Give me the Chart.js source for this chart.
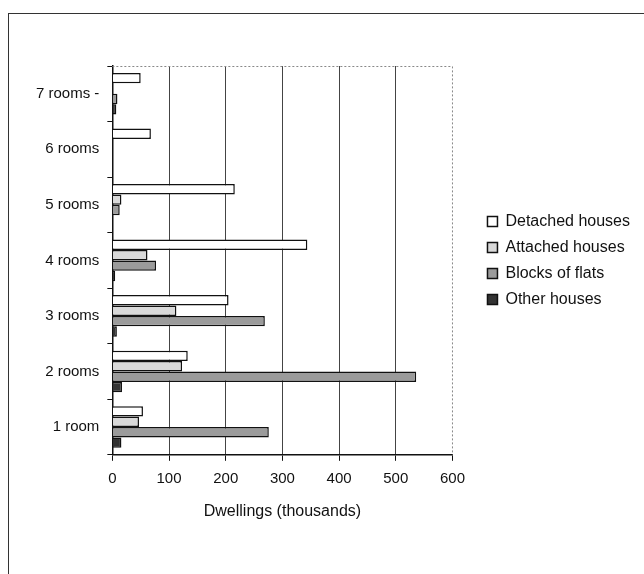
<!DOCTYPE html>
<html>
<head>
<meta charset="utf-8">
<script src="https://cdn.jsdelivr.net/npm/chart.js@4.4.1/dist/chart.umd.min.js"></script>
<style>
  html, body { margin: 0; padding: 0; background: #fff; }
  #wrap { position: absolute; left: 0; top: 0; width: 644px; height: 574px; }
  #frame { position: absolute; left: 8px; top: 13px; width: 700px; height: 600px;
           border-left: 1.5px solid #333; border-top: 1.5px solid #333; }
</style>
</head>
<body>
<div id="frame"></div>
<div id="wrap"><canvas id="chart"></canvas></div>
<script>
const categories = ['7 rooms -', '6 rooms', '5 rooms', '4 rooms', '3 rooms', '2 rooms', '1 room'];
const detached = [50, 68, 216, 344, 205, 133, 54];
const attached = [0, 0, 16, 62, 113, 123, 47];
const blocks   = [9, 0, 13, 77, 269, 536, 276];
const other    = [7, 0, 0, 5, 8, 17, 16];
const xTicks = [0, 100, 200, 300, 400, 500, 600];

const font = 'Liberation Sans, Arial, sans-serif';

// dotted top and right edge of the plot area
const plotEdges = {
  id: 'plotEdges',
  afterDraw(chart) {
    const { ctx, chartArea: a } = chart;
    ctx.save();
    ctx.strokeStyle = '#888';
    ctx.lineWidth = 1;
    ctx.setLineDash([2, 2]);
    ctx.beginPath();
    ctx.moveTo(a.left, a.top + 0.5);
    ctx.lineTo(a.right, a.top + 0.5);
    ctx.lineTo(a.right, a.bottom);
    ctx.stroke();
    ctx.restore();
  }
};

function ds(label, data, fill) {
  return {
    label, data,
    backgroundColor: fill,
    borderColor: '#111',
    borderWidth: 1.5,
    barPercentage: 1.0,
    categoryPercentage: 0.75
  };
}

new Chart(document.getElementById('chart'), {
  type: 'bar',
  data: {
    labels: categories,
    datasets: [
      ds('Detached houses', detached, '#ffffff'),
      ds('Attached houses', attached, '#d9d9d9'),
      ds('Blocks of flats', blocks, '#9b9b9b'),
      ds('Other houses', other, '#333333')
    ]
  },
  options: {
    indexAxis: 'y',
    responsive: true,
    maintainAspectRatio: false,
    animation: false,
    layout: { padding: { left: 28, top: 66, right: 4, bottom: 53 } },
    scales: {
      x: {
        min: 0, max: 600,
        afterBuildTicks(s) { s.ticks = xTicks.map(v => ({ value: v })); },
        grid: {
          color: c => (c.tick && (c.tick.value === 0 || c.tick.value === 600)) ? 'rgba(0,0,0,0)' : '#444',
          lineWidth: 1,
          tickColor: '#111',
          tickLength: 6
        },
        border: { color: '#111', width: 1.5 },
        ticks: { color: '#111', font: { family: font, size: 15 }, padding: 9 },
        title: {
          display: true,
          text: 'Dwellings (thousands)',
          color: '#111',
          font: { family: font, size: 16 },
          padding: { top: 5, bottom: 0 }
        }
      },
      y: {
        grid: { drawOnChartArea: false, tickColor: '#111', tickLength: 5 },
        border: { color: '#111', width: 1.5 },
        ticks: { color: '#111', font: { family: font, size: 15 }, padding: 8 }
      },
      gap: {
        position: 'right',
        display: true,
        grid: { display: false },
        border: { display: false },
        ticks: { display: false },
        afterFit(s) { s.width = 25; }
      }
    },
    plugins: {
      legend: {
        position: 'right',
        fullSize: false,
        maxWidth: 180,
        labels: {
          color: '#111',
          font: { family: font, size: 16 },
          boxWidth: 10,
          boxHeight: 10,
          padding: 10,
          useBorderRadius: false
        }
      },
      tooltip: { enabled: false }
    }
  },
  plugins: [plotEdges]
});
</script>
</body>
</html>
